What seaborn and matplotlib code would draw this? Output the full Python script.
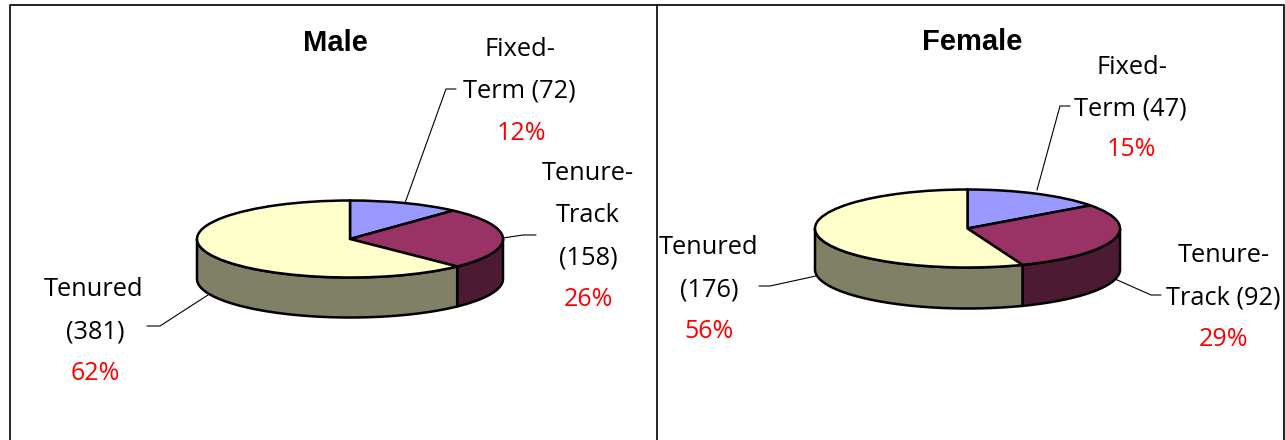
import numpy as np
import matplotlib.pyplot as plt
import seaborn as sns

sns.set_theme(style="white")
plt.rcParams['font.family'] = ['Open Sans', 'DejaVu Sans']

W, H = 1285, 440

categories = ["Fixed-Term", "Tenure-Track", "Tenured"]
male_counts = [72, 158, 381]
female_counts = [47, 92, 176]
male_pct = ["12%", "26%", "62%"]
female_pct = ["15%", "29%", "56%"]
top_colors = ["#9999FF", "#993366", "#FFFFCC"]
side_colors = ["#55558F", "#4D1A33", "#808066"]


def draw_pie(fig, counts, left, top, rx, ry, depth):
    # depth is in pixels, the axes is stretched so the circle turns into an ellipse
    d = depth / ry
    ax = fig.add_axes([left / W, 1 - (top + 2 * ry + depth) / H, 2 * rx / W, (2 * ry + depth) / H])
    ax.patch.set_alpha(0)

    # side wall first, only the front half can be seen
    fracs = np.cumsum([0] + list(counts)) / sum(counts)
    for i in range(len(counts)):
        a0 = max(fracs[i] * 360, 90)
        a1 = min(fracs[i + 1] * 360, 270)
        if a1 <= a0:
            continue
        t = np.radians(np.linspace(a0, a1, 80))
        x = np.sin(t)
        y = np.cos(t)
        ax.fill(np.r_[x, x[::-1]], np.r_[y, y[::-1] - d], facecolor=side_colors[i],
                edgecolor="black", linewidth=1.8, clip_on=False)

    ax.pie(counts, colors=top_colors, startangle=90, counterclock=False, radius=1,
           wedgeprops=dict(edgecolor="black", linewidth=1.8, clip_on=False))
    ax.set_aspect("auto")
    ax.set_xlim(-1, 1)
    ax.set_ylim(-1 - d, 1)
    ax.axis("off")


fig = plt.figure(figsize=(W / 100, H / 100), dpi=100, facecolor="white")

# pixel overlay for the frame, leader lines and labels
page = fig.add_axes([0, 0, 1, 1])
page.set_xlim(0, W)
page.set_ylim(H, 0)
page.axis("off")

page.plot([9.5, 9.5, 1284, 1284], [H, 5.5, 5.5, H], color="black", lw=1.2)
page.plot([657, 657], [5.5, H], color="black", lw=1.2)

draw_pie(fig, male_counts, 197, 200.5, 153, 38.5, 40)
draw_pie(fig, female_counts, 815, 189.5, 152.5, 39, 41)

LEADER = dict(color="black", lw=0.8)
page.plot([405, 446, 456], [203, 89, 89], **LEADER)
page.plot([503, 523, 536], [238, 235, 235], **LEADER)
page.plot([211, 160, 147], [293, 326, 326], **LEADER)
page.plot([1037, 1060, 1070], [190, 106, 106], **LEADER)
page.plot([1115, 1151, 1161], [279, 295, 295], **LEADER)
page.plot([816, 770, 759], [276, 286, 286], **LEADER)

TXT = dict(ha="center", va="center", fontsize=18.3, color="black")
PCT = dict(ha="center", va="center", fontsize=18, color="#FF0000")
TITLE = dict(ha="center", va="center", fontsize=21, fontweight="bold", color="black",
             family="Liberation Sans")

page.text(335, 43, "Male", **TITLE)
page.text(972, 42, "Female", **TITLE)

# male labels
page.text(520, 50, "Fixed-", **TXT)
page.text(519, 91, "Term (%d)" % male_counts[0], **TXT)
page.text(521, 133, male_pct[0], **PCT)
page.text(588, 174, "Tenure-", **TXT)
page.text(588, 216, "Track", **TXT)
page.text(588, 258, "(%d)" % male_counts[1], **TXT)
page.text(588, 299, male_pct[1], **PCT)
page.text(94, 290, "Tenured", **TXT)
page.text(95, 332, "(%d)" % male_counts[2], **TXT)
page.text(95, 374, male_pct[2], **PCT)

# female labels
page.text(1132, 68, "Fixed-", **TXT)
page.text(1130, 109, "Term (%d)" % female_counts[0], **TXT)
page.text(1131, 150, female_pct[0], **PCT)
page.text(1224, 256, "Tenure-", **TXT)
page.text(1223, 298, "Track (%d)" % female_counts[1], **TXT)
page.text(1224, 340, female_pct[1], **PCT)
page.text(709, 248, "Tenured", **TXT)
page.text(709, 290, "(%d)" % female_counts[2], **TXT)
page.text(709, 332, female_pct[2], **PCT)

fig.savefig("out.png", dpi=100)
